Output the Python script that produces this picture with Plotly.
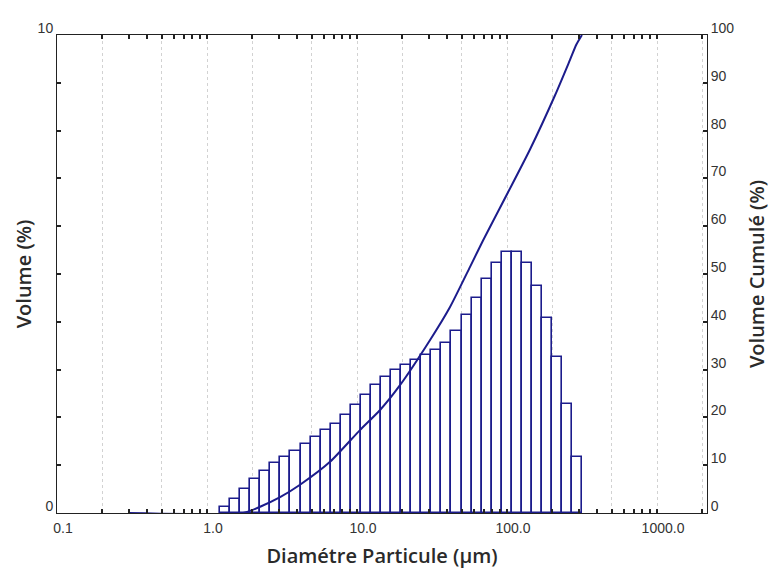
import numpy as np
import plotly.graph_objects as go

# ---- data ----
diameter_um = [1.318, 1.538, 1.796, 2.096, 2.446, 2.855, 3.332, 3.889, 4.538, 5.297,
               6.18, 7.215, 8.42, 9.83, 11.47, 13.38, 15.62, 18.23, 21.28, 24.83,
               28.97, 33.82, 39.47, 46.06, 53.76, 62.74, 73.22, 85.45, 99.7, 116.4,
               135.8, 158.5, 185.0, 215.9, 252.0, 294.0]
volume_pct = [0.13, 0.29, 0.50, 0.71, 0.88, 1.05, 1.17, 1.30, 1.45, 1.59,
              1.74, 1.86, 2.05, 2.26, 2.47, 2.68, 2.85, 2.99, 3.10, 3.20,
              3.30, 3.41, 3.56, 3.81, 4.14, 4.50, 4.90, 5.23, 5.46, 5.46,
              5.23, 4.75, 4.08, 3.26, 2.28, 1.17]
cum_diameter_um = [0.3, 1.74, 2.26, 3.07, 4.17, 6.61, 10.5, 14.2, 19.4, 30.7,
                   41.7, 56.7, 69.2, 142.0, 209.0, 263.0, 290.0, 316.0]
cum_pct = [0.0, 0.0, 1.3, 3.3, 5.9, 10.7, 17.4, 21.5, 26.8, 36.2,
           43.1, 51.5, 57.0, 76.0, 87.4, 94.8, 98.0, 100.0]

x_major = [0.1, 0.2, 0.5, 1, 2, 5, 10, 20, 50, 100, 200, 500, 1000, 2000]
x_major_text = ["0.1", "", "", "1.0", "", "", "10.0", "", "", "100.0", "", "", "1000.0", ""]
x_minor = [m * 10.0 ** e for e in range(-1, 4) for m in (3, 4, 6, 7, 8, 9)]
x_max = 2154.0

y_left_ticks = list(range(0, 11))
y_left_text = ["0"] + [""] * 9 + ["10"]
y_right_ticks = list(range(0, 101, 10))

navy = "#1c1c8c"
axis_col = "#222222"
tick_font = dict(family="Liberation Sans, Arial, sans-serif", size=14, color="#333333")
title_font = dict(family="Open Sans, Lato, sans-serif", size=20, color="#2a2a2a", weight=600)

lx = np.log10(diameter_um)
bw = float(np.mean(np.diff(lx)))

fig = go.Figure()
fig.add_trace(go.Bar(
    x=lx, y=volume_pct, width=bw,
    marker=dict(color="white", line=dict(color=navy, width=1.6)),
    yaxis="y", showlegend=False,
))
fig.add_trace(go.Scatter(
    x=np.log10(cum_diameter_um), y=cum_pct, mode="lines",
    line=dict(color=navy, width=2, shape="spline", smoothing=0.6),
    yaxis="y2", showlegend=False,
))

fig.update_layout(
    width=779, height=581,
    margin=dict(l=57, r=72, t=35, b=68),
    paper_bgcolor="white", plot_bgcolor="white",
    bargap=0,
    xaxis=dict(
        range=[-1, np.log10(x_max)],
        tickmode="array", tickvals=np.log10(x_major), ticktext=x_major_text,
        ticks="inside", ticklen=4, tickwidth=1.5, tickcolor=axis_col,
        ticklabelshift=6, ticklabelstandoff=2,
        showgrid=True, gridcolor="#d2d2d2", griddash="dot", gridwidth=1,
        minor=dict(tickmode="array", tickvals=np.log10(x_minor), ticks="inside",
                   ticklen=4, tickwidth=1.5, tickcolor=axis_col, showgrid=False),
        showline=True, linecolor=axis_col, linewidth=1, mirror="ticks",
        zeroline=False, tickfont=tick_font,
        title=dict(text="Diamétre Particule (µm)", font=title_font, standoff=14),
    ),
    yaxis=dict(
        range=[0, 10], tickmode="array", tickvals=y_left_ticks, ticktext=y_left_text,
        ticks="inside", ticklen=4, tickwidth=1.5, tickcolor=axis_col,
        ticklabelshift=-7,
        showgrid=False, zeroline=False,
        showline=True, linecolor=axis_col, linewidth=1,
        tickfont=tick_font,
        title=dict(text="Volume (%)", font=title_font, standoff=0),
    ),
    yaxis2=dict(
        range=[0, 100], overlaying="y", side="right",
        tickmode="array", tickvals=y_right_ticks,
        ticks="inside", ticklen=4, tickwidth=1.5, tickcolor=axis_col,
        ticklabelshift=-7,
        showgrid=False, zeroline=False,
        showline=True, linecolor=axis_col, linewidth=1,
        tickfont=tick_font,
        title=dict(text="Volume Cumulé (%)", font=title_font, standoff=16),
    ),
)

fig.write_html("out.html")
